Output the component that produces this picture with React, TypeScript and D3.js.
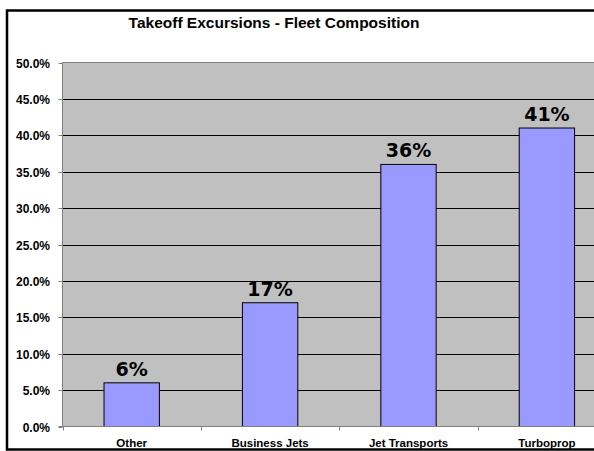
import React from "react";
import * as d3 from "d3";

const categories = ["Other", "Business Jets", "Jet Transports", "Turboprop"];
const shares = [6, 17, 36, 41];
const yTicks = [0, 5, 10, 15, 20, 25, 30, 35, 40, 45, 50];

const W = 594;
const H = 451;
const plot = { left: 62.5, top: 62.5, bottom: 426.5, band: 138.4 };

export default function App() {
  const x = d3
    .scaleBand<string>()
    .domain(categories)
    .range([plot.left, plot.left + plot.band * categories.length])
    .paddingInner(0.6)
    .paddingOuter(0.3);
  const xOuter = d3
    .scaleBand<string>()
    .domain(categories)
    .range([plot.left, plot.left + plot.band * categories.length]);
  const y = d3.scaleLinear().domain([0, 50]).range([plot.bottom, plot.top]);
  const plotRight = plot.left + plot.band * categories.length;
  const axisFont = "Arial, 'Liberation Sans', sans-serif";

  return (
    <svg
      width={W}
      height={H}
      style={{ position: "fixed", left: 0, top: 0, background: "#fff", overflow: "hidden" }}
    >
      <rect x={0} y={0} width={W} height={H} fill="#fff" />
      <text
        x={274}
        y={28}
        textAnchor="middle"
        fontFamily={axisFont}
        fontWeight="bold"
        fontSize={15.5}
        fill="#000"
      >
        Takeoff Excursions - Fleet Composition
      </text>

      {/* plot background */}
      <rect
        x={plot.left}
        y={plot.top}
        width={plotRight - plot.left}
        height={plot.bottom - plot.top}
        fill="#C0C0C0"
      />

      {/* gridlines and y ticks */}
      {yTicks.map((t) => (
        <g key={t}>
          {t > 0 && t < 50 && (
            <line
              x1={plot.left}
              x2={plotRight}
              y1={Math.round(y(t)) + 0.5}
              y2={Math.round(y(t)) + 0.5}
              stroke="#000"
              strokeWidth={1}
            />
          )}
          <line
            x1={plot.left - 4}
            x2={plot.left}
            y1={Math.round(y(t)) + 0.5}
            y2={Math.round(y(t)) + 0.5}
            stroke="#808080"
          />
          <text
            x={50}
            y={Math.round(y(t)) + 4.5}
            textAnchor="end"
            fontFamily={axisFont}
            fontWeight="bold"
            fontSize={12}
            fill="#000"
          >
            {t.toFixed(1) + "%"}
          </text>
        </g>
      ))}
      {/* plot frame top/left */}
      <line x1={plot.left} x2={plotRight} y1={plot.top} y2={plot.top} stroke="#808080" />
      <line x1={plot.left} x2={plot.left} y1={plot.top} y2={plot.bottom} stroke="#808080" />

      {/* bars */}
      {categories.map((c, i) => (
        <rect
          key={c}
          x={x(c)!}
          y={y(shares[i])}
          width={x.bandwidth()}
          height={y(0) - y(shares[i])}
          fill="#9999FF"
          stroke="#000"
          strokeWidth={1}
        />
      ))}

      {/* x axis */}
      <line x1={plot.left - 4} x2={plotRight} y1={plot.bottom} y2={plot.bottom} stroke="#808080" />
      {categories.map((c) => (
        <line
          key={c}
          x1={Math.round(xOuter(c)!) + 0.5}
          x2={Math.round(xOuter(c)!) + 0.5}
          y1={plot.bottom}
          y2={plot.bottom + 4}
          stroke="#808080"
        />
      ))}

      {/* value labels */}
      {categories.map((c, i) => (
        <text
          key={c}
          x={x(c)! + x.bandwidth() / 2}
          y={y(shares[i]) - 7}
          textAnchor="middle"
          fontFamily="'DejaVu Sans', Verdana, sans-serif"
          fontWeight="bold"
          fontSize={19}
          fill="#000"
        >
          {shares[i] + "%"}
        </text>
      ))}

      {/* category labels */}
      {categories.map((c) => (
        <text
          key={c}
          x={x(c)! + x.bandwidth() / 2}
          y={447}
          textAnchor="middle"
          fontFamily={axisFont}
          fontWeight="bold"
          fontSize={11.5}
          fill="#000"
        >
          {c}
        </text>
      ))}

      {/* chart frame: left, top and bottom edges; the right edge lies beyond the view */}
      <path
        d={`M${W},10.5 H7 V449.5 H${W}`}
        fill="none"
        stroke="#000"
        strokeWidth={2.5}
      />
    </svg>
  );
}
